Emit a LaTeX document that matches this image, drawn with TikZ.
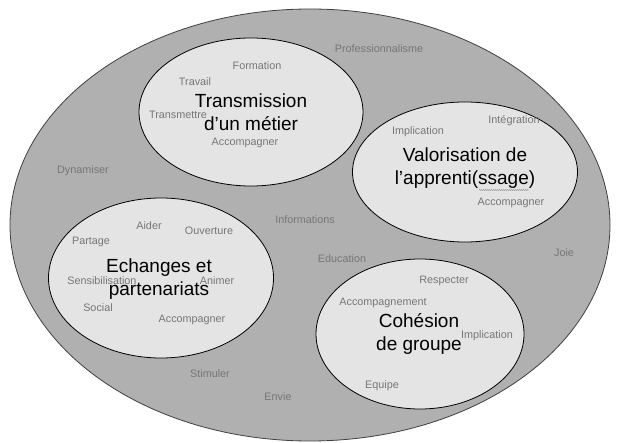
\documentclass[tikz,border=0pt]{standalone}
\usepackage{fontspec}
\setmainfont{Liberation Sans}
\usetikzlibrary{shapes.geometric,decorations.pathmorphing}
\definecolor{outerfill}{RGB}{176,176,176}
\definecolor{innerfill}{RGB}{228,228,228}
\definecolor{wordgray}{RGB}{118,118,118}
\begin{document}
\begin{tikzpicture}[x=1pt,y=-1pt,
  zone/.style={ellipse, draw=black, line width=0.8pt, fill=innerfill, inner sep=0pt},
  word/.style={text=wordgray, font=\fontsize{10.8}{12}\selectfont, inner sep=0pt},
  title/.style={text=black, font=\fontsize{19}{23}\selectfont, inner sep=0pt, align=center}]
\fill[white] (0,0) rectangle (621,443);
\useasboundingbox (0,0) rectangle (621,443);
\node[ellipse, draw=black!75, line width=0.8pt, fill=outerfill, minimum width=600pt, minimum height=432pt, inner sep=0pt] (outer) at (310,225) {};
% inner zones
\node[zone, minimum width=224pt, minimum height=148pt] (trans) at (251,112) {};
\node[zone, minimum width=225pt, minimum height=140pt] (valo) at (465,172) {};
\node[zone, minimum width=225pt, minimum height=160pt] (echa) at (161,278) {};
\node[zone, minimum width=208pt, minimum height=150pt] (cohe) at (420,334) {};
% titles
\node[title] (ttrans) at (251,112.5) {Transmission\\d’un métier};
\node[title] (tvalo) at (465,168) {Valorisation de\\l’apprenti(ssage)};
\node[title] (techa) at (159,279) {Echanges et\\partenariats};
\node[title] (tcohe) at (419,334) {Cohésion\\de groupe};
\draw[wordgray!70, line width=0.5pt, decorate, decoration={snake, amplitude=0.6pt, segment length=2pt}] (479,190) -- (529,190);
% words
\node[word] (w1) at (379,49) {Professionnalisme};
\node[word] (w2) at (257,66) {Formation};
\node[word] (w3) at (195,82) {Travail};
\node[word] (w4) at (178,115) {Transmettre};
\node[word] (w5) at (245,143) {Accompagner};
\node[word] (w6) at (83,171) {Dynamiser};
\node[word] (w7) at (418,132) {Implication};
\node[word] (w8) at (514,121) {Intégration};
\node[word] (w9) at (511,203) {Accompagner};
\node[word] (w10) at (305,220) {Informations};
\node[word] (w11) at (149,226) {Aider};
\node[word] (w12) at (209,231) {Ouverture};
\node[word] (w13) at (91,242) {Partage};
\node[word] (w14) at (342,259) {Education};
\node[word] (w15) at (564,253) {Joie};
\node[word] (w16) at (102,281) {Sensibilisation};
\node[word] (w17) at (217,281) {Animer};
\node[word] (w18) at (444,281) {Respecter};
\node[word] (w19) at (383,303) {Accompagnement};
\node[word] (w20) at (98,308) {Social};
\node[word] (w21) at (192,320) {Accompagner};
\node[word] (w22) at (487,336) {Implication};
\node[word] (w23) at (210,374) {Stimuler};
\node[word] (w24) at (382,386) {Equipe};
\node[word] (w25) at (278,397) {Envie};
\end{tikzpicture}
\end{document}
